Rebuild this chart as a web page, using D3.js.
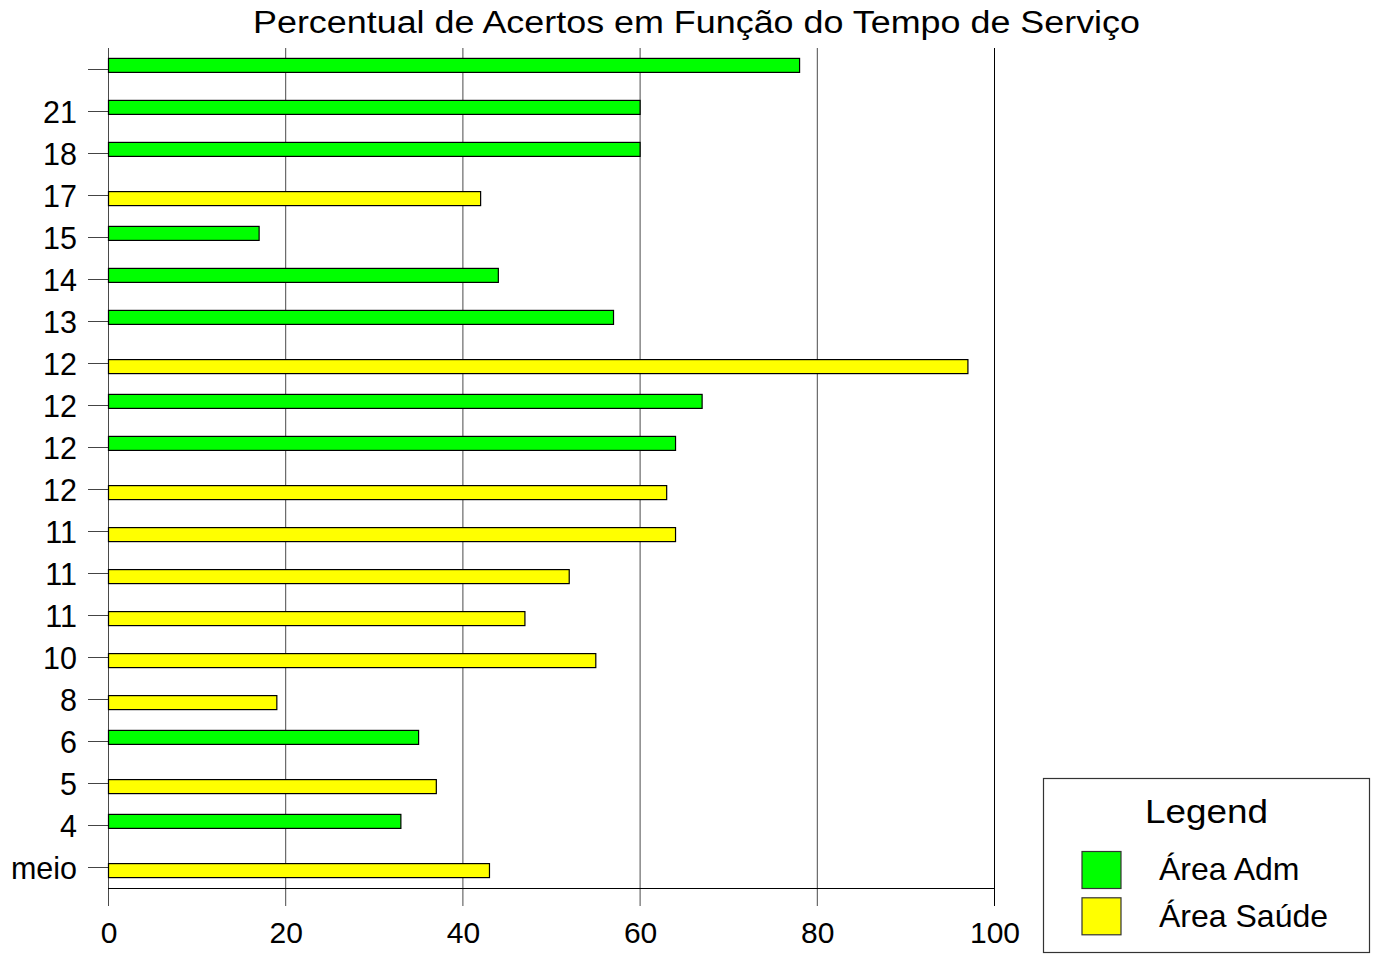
<!DOCTYPE html>
<html><head><meta charset="utf-8">
<script src="https://cdn.jsdelivr.net/npm/d3@7"></script>
<style>body{margin:0;background:#fff}svg{display:block;font-family:"Liberation Sans",Arial,sans-serif}</style>
</head><body>
<svg id="c" width="1378" height="954"></svg>
<script>
const categories = ["", "21","18","17","15","14","13","12","12","12","12","11","11","11","10","8","6","5","4","meio"];
const values = [78,60,60,42,17,44,57,97,67,64,63,64,52,47,55,19,35,37,33,43];
const areas = ["Adm","Adm","Adm","Saude","Adm","Adm","Adm","Saude","Adm","Adm","Saude","Saude","Saude","Saude","Saude","Saude","Adm","Saude","Adm","Saude"];
const seriesKeys = ["Adm","Saude"];
const seriesLabels = ["Área Adm","Área Saúde"];
const seriesColors = ["#00ff00","#ffff00"];
const xTicks = [0,20,40,60,80,100];
const title = "Percentual de Acertos em Função do Tempo de Serviço";

const svg = d3.select("#c");
const x = d3.scaleLinear().domain([0,100]).range([108,994]);
const y = d3.scaleBand().domain(d3.range(categories.length)).range([48,888]).padding(0);
const sub = d3.scalePoint().domain(seriesKeys).range([-3.6,3.6]);
const color = d3.scaleOrdinal().domain(seriesKeys).range(seriesColors);
const barH = 14;

// title
svg.append("text").attr("x",696.5).attr("y",33).attr("text-anchor","middle")
  .attr("font-size",31).attr("textLength",887).attr("lengthAdjust","spacingAndGlyphs")
  .text(title);

// vertical grid lines
svg.append("g").selectAll("line").data(xTicks).join("line")
  .attr("x1",d=>x(d)+0.5).attr("x2",d=>x(d)+0.5).attr("y1",48).attr("y2",906)
  .attr("stroke",d=>d===100?"#000":"#4a4a4a").attr("stroke-width",1);

// bottom line
svg.append("line").attr("x1",x(0)).attr("x2",x(100)+1).attr("y1",888.5).attr("y2",888.5)
  .attr("stroke","#000");

// x axis labels
const xAxis = d3.axisBottom(x).tickValues(xTicks).tickSize(0).tickPadding(0);
const gx = svg.append("g").attr("transform","translate(0.5,922)").call(xAxis);
gx.select(".domain").remove();
gx.selectAll("text").attr("font-size",30).attr("fill","#000")
  .attr("font-family","'Liberation Sans',Arial,sans-serif");

// y axis
const yAxis = d3.axisLeft(y).tickFormat(i=>categories[i]).tickSize(20).tickPadding(11);
const gy = svg.append("g").attr("transform","translate(108,0)").call(yAxis);
gy.select(".domain").remove();
gy.selectAll("line").attr("stroke","#444").attr("transform","translate(0,0.5)");
gy.selectAll("text").attr("font-size",30.5).attr("fill","#000").attr("dy","0.4em")
  .attr("font-family","'Liberation Sans',Arial,sans-serif");

// bars
svg.append("g").selectAll("rect").data(values).join("rect")
  .attr("x",x(0)+0.5)
  .attr("y",(d,i)=>y(i)+y.bandwidth()/2+sub(areas[i])-barH/2)
  .attr("width",d=>x(d)-x(0))
  .attr("height",barH)
  .attr("fill",(d,i)=>color(areas[i]))
  .attr("stroke","#000").attr("stroke-width",1.2);

// legend
const lg = svg.append("g");
lg.append("rect").attr("x",1043.5).attr("y",778.5).attr("width",326).attr("height",174)
  .attr("fill","#fff").attr("stroke","#333").attr("stroke-width",1.2);
lg.append("text").attr("x",1206.5).attr("y",823).attr("text-anchor","middle")
  .attr("font-size",34).attr("textLength",123).attr("lengthAdjust","spacingAndGlyphs").text("Legend");
seriesKeys.forEach((k,i)=>{
  lg.append("rect").attr("x",1082).attr("y",851.5+i*46.3).attr("width",39).attr("height",37)
    .attr("fill",color(k)).attr("stroke","#333").attr("stroke-width",1.2);
  lg.append("text").attr("x",1159).attr("y",880+i*46.5).attr("font-size",32).text(seriesLabels[i]);
});
</script>
</body></html>
